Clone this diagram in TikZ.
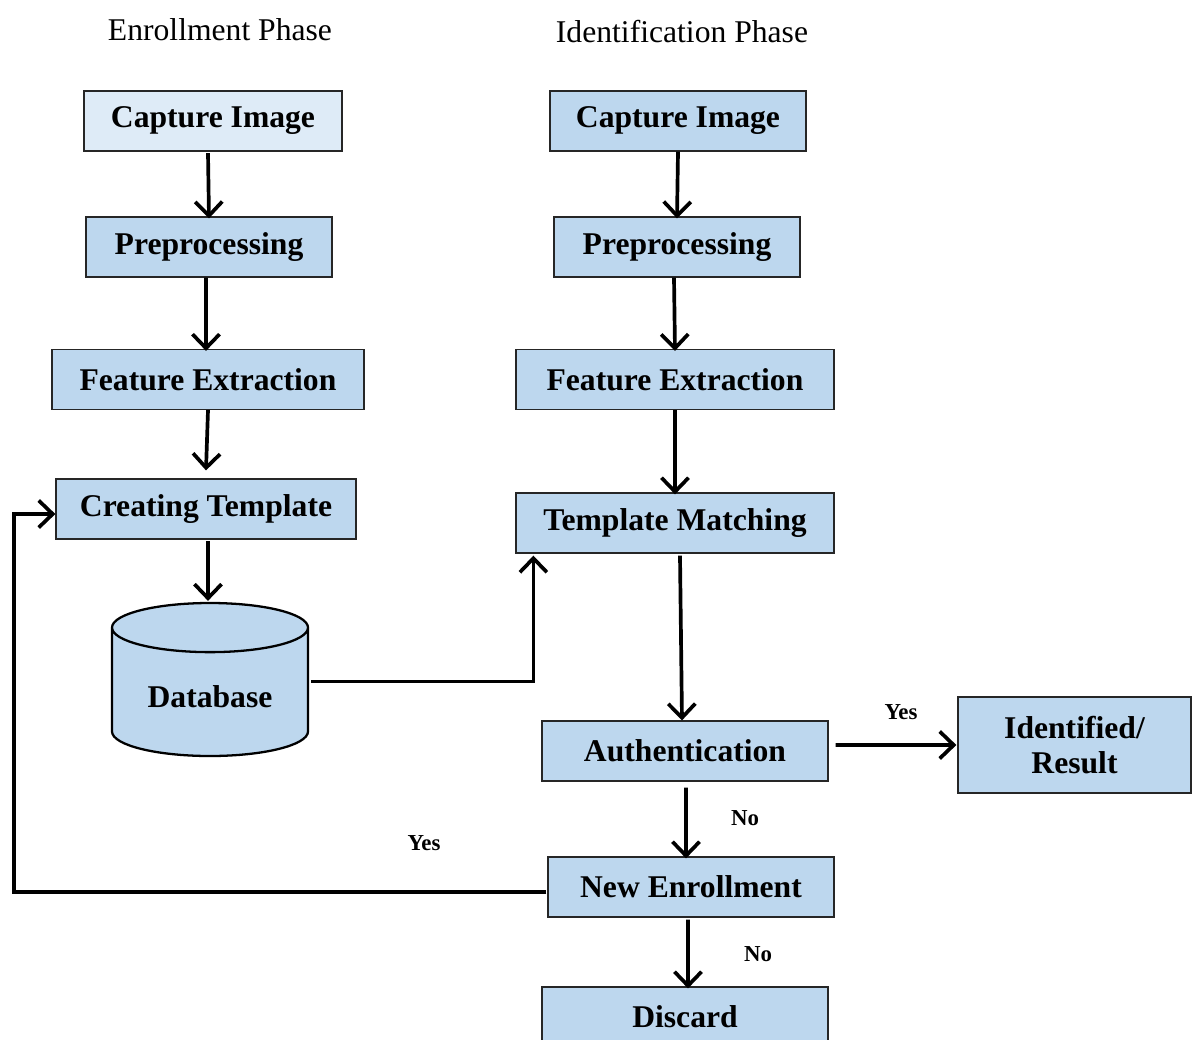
\documentclass[tikz,border=0pt]{standalone}
\usepackage{fontspec}
\setmainfont{Liberation Serif}
\usetikzlibrary{positioning, calc, shapes.geometric, arrows.meta}

\definecolor{boxblue}{HTML}{BDD7EE}
\definecolor{boxpale}{HTML}{DEEBF7}

\tikzset{
  stepbox/.style={draw=black!85, line width=0.7pt, fill=boxblue, minimum height=1.2cm,
    inner sep=0pt, font=\fontsize{18}{20}\selectfont\bfseries},
  phase/.style={font=\fontsize{18}{20}\selectfont},
  answer/.style={font=\fontsize{13}{15}\selectfont\bfseries},
  arr/.style={line width=2.1pt, -{Straight Barb[length=2.8mm, width=5.4mm, line width=2.1pt]}}
}

\begin{document}
\begin{tikzpicture}
			\useasboundingbox (0,0) rectangle (23.84,-20.78);

			% titles
			\node[phase] (enroll)   at (4.4, -0.6)  {Enrollment Phase};
			\node[phase] (ident)   at (13.64, -0.64)  {Identification Phase};

			% enrollment phase
			\node[stepbox, fill=boxpale, minimum width=5.16cm] (eCap)   at (4.26, -2.42)  {Capture Image};
			\node[stepbox, minimum width=4.92cm] (ePre)   at (4.18, -4.94)  {Preprocessing};
			\node[stepbox, minimum width=6.24cm] (eFeat)   at (4.16, -7.59)  {Feature Extraction};
			\node[stepbox, minimum width=6.0cm] (eTmp)   at (4.12, -10.18)  {Creating Template};
			\node[cylinder, shape border rotate=90, aspect=0.36, draw=black, line width=1.3pt, fill=boxblue,
				minimum width=3.92cm, minimum height=3.06cm, anchor=shape center,
				font=\fontsize{18}{20}\selectfont\bfseries] (db)   at (4.2, -13.59)  {Database};

			% identification phase
			\node[stepbox, minimum width=5.12cm] (iCap)   at (13.56, -2.42)  {Capture Image};
			\node[stepbox, minimum width=4.92cm] (iPre)   at (13.54, -4.94)  {Preprocessing};
			\node[stepbox, minimum width=6.36cm] (iFeat)   at (13.5, -7.59)  {Feature Extraction};
			\node[stepbox, minimum width=6.36cm] (iMatch)   at (13.5, -10.46)  {Template Matching};
			\node[stepbox, minimum width=5.72cm] (iAuth)   at (13.7, -15.02)  {Authentication};
			\node[stepbox, minimum width=4.66cm, minimum height=1.92cm, align=center] (iRes)   at (21.49, -14.9)  {Identified/\\Result};
			\node[stepbox, minimum width=5.72cm] (iNew)   at (13.82, -17.74)  {New Enrollment};
			\node[stepbox, minimum width=5.72cm] (iDis)   at (13.7, -20.34)  {Discard};

			\coordinate (bend) at (0.28, -14);

			\draw[arr] ($(eCap.south)+(-0.1,-0.03)$) -- ($(ePre.north)+(0,-0.04)$);
			\draw[arr] ($(ePre.south)+(-0.06,0)$) -- ($(eFeat.north)+(-0.04,-0.04)$);
			\draw[arr] (eFeat.south) -- ($(eTmp.north)+(0,0.16)$);
			\draw[arr] ($(eTmp.south)+(0.04,-0.03)$) -- ($(db.north)+(-0.04,0.02)$);

			\draw[arr] (iCap.south) -- ($(iPre.north)+(0,-0.04)$);
			\draw[arr] ($(iPre.south)+(-0.06,0)$) -- ($(iFeat.north)+(0,-0.04)$);
			\draw[arr] (iFeat.south) -- ($(iMatch.north)+(0,-0.04)$);
			\draw[arr] ($(db.east)+(0.04,0.3)$) -| ($(iMatch.south west)+(0.36,-0.04)$);
			\draw[arr] ($(iMatch.south)+(0.1,-0.04)$) -- ($(iAuth.north)+(-0.06,0)$);
			\draw[arr] ($(iAuth.east)+(0.14,0.12)$) -- ($(iRes.west)+(-0.02,0)$);
			\draw[arr] ($(iAuth.south)+(0.02,-0.12)$) -- ($(iNew.north)+(-0.1,-0.04)$);
			\draw[arr] ($(iNew.south)+(-0.06,-0.04)$) -- ($(iDis.north)+(0.06,-0.04)$);
			\draw[arr] ($(iNew.west)+(-0.02,-0.1)$) -| (bend) |- ($(eTmp.west)+(0,-0.1)$);

			\node[answer] (yesA)   at (18.02, -14.24)  {Yes};
			\node[answer] (noA)   at (14.9, -16.36)  {No};
			\node[answer] (yesN)   at (8.48, -16.86)  {Yes};
			\node[answer] (noN)   at (15.16, -19.08)  {No};
		\end{tikzpicture}
\end{document}
